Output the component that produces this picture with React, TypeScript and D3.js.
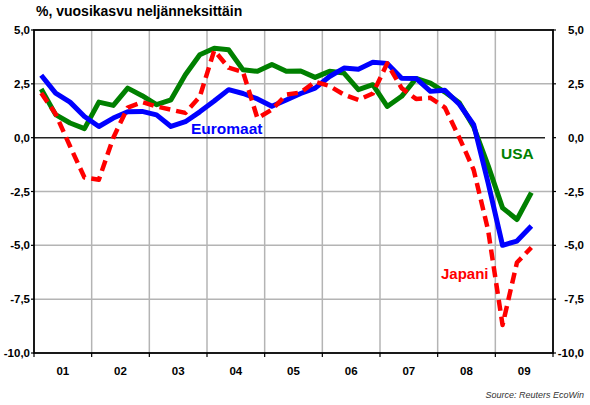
import React from "react";
import * as d3 from "d3";

const quarters = [
  "2001Q1","2001Q2","2001Q3","2001Q4",
  "2002Q1","2002Q2","2002Q3","2002Q4",
  "2003Q1","2003Q2","2003Q3","2003Q4",
  "2004Q1","2004Q2","2004Q3","2004Q4",
  "2005Q1","2005Q2","2005Q3","2005Q4",
  "2006Q1","2006Q2","2006Q3","2006Q4",
  "2007Q1","2007Q2","2007Q3","2007Q4",
  "2008Q1","2008Q2","2008Q3","2008Q4",
  "2009Q1","2009Q2","2009Q3",
];

const usa = [
  2.26, 1.07, 0.68, 0.42, 1.65, 1.5, 2.3, 1.95,
  1.53, 1.76, 2.92, 3.85, 4.15, 4.08, 3.15, 3.08,
  3.4, 3.08, 3.1, 2.8, 3.08, 3.0, 2.23, 2.46,
  1.45, 1.92, 2.75, 2.53, 2.12, 1.62, 0.5, -1.3,
  -3.26, -3.8, -2.55,
];

const euromaat = [
  2.9, 2.07, 1.65, 0.98, 0.52, 0.91, 1.2, 1.22,
  1.06, 0.52, 0.74, 1.2, 1.7, 2.23, 2.05, 1.8,
  1.46, 1.75, 2.05, 2.3, 2.84, 3.23, 3.18, 3.5,
  3.45, 2.76, 2.75, 2.15, 2.2, 1.55, 0.6, -2.1,
  -5.0, -4.8, -4.1,
];

const japani = [
  2.07, 1.1, -0.4, -1.85, -1.95, 0.0, 1.4, 1.65,
  1.45, 1.3, 1.15, 1.9, 4.05, 3.25, 3.05, 0.9,
  1.3, 2.0, 2.1, 2.6, 2.4, 2.0, 1.75, 2.05,
  3.45, 2.3, 1.8, 1.85, 1.4, 0.0, -1.5, -4.3,
  -8.7, -5.8, -5.1,
];

const yTicks = [5, 2.5, 0, -2.5, -5, -7.5, -10];
const yearLabels = ["01", "02", "03", "04", "05", "06", "07", "08", "09"];

const W = 590;
const H = 405;
const left = 34;
const right = 553;
const top = 30;
const bottom = 353;

const fmt = d3
  .formatLocale({ decimal: ",", thousands: " ", grouping: [3], currency: ["", ""], minus: "-" })
  .format(".1f");

const FONT = "'Liberation Sans', Arial, sans-serif";

export default function App() {
  const x = d3.scaleLinear().domain([2001, 2010]).range([left, right]);
  const y = d3.scaleLinear().domain([-10, 5]).range([bottom, top]);

  const qx = (q: string) => {
    const yr = +q.slice(0, 4);
    const qq = +q.slice(5);
    return yr + (qq - 0.5) / 4;
  };

  const line = d3
    .line<number>()
    .x((_, i) => x(qx(quarters[i])))
    .y((d) => y(d));

  const yearStarts = d3.range(2002, 2010);
  const gridY = yTicks.filter((v) => v !== 0 && v !== 5 && v !== -10);

  return (
    <svg
      width={W}
      height={H}
      style={{ position: "absolute", left: 0, top: 0, background: "#fff" }}
      fontFamily={FONT}
    >
      <rect x={0} y={0} width={W} height={H} fill="#fff" />
      <text x={36} y={15.5} fontSize={14} fontWeight="bold" fill="#000">
        %, vuosikasvu neljänneksittäin
      </text>

      {/* grid */}
      {gridY.map((v) => (
        <line key={"gy" + v} x1={left} x2={right} y1={y(v)} y2={y(v)} stroke="#b4b4b4" strokeWidth={1.5} />
      ))}
      {yearStarts.map((yr) => (
        <line key={"gx" + yr} x1={x(yr)} x2={x(yr)} y1={top} y2={bottom} stroke="#b4b4b4" strokeWidth={1.5} />
      ))}
      <line x1={left} x2={545} y1={y(0)} y2={y(0)} stroke="#222" strokeWidth={1.5} />

      {/* ticks */}
      {yTicks.map((v) => (
        <g key={"t" + v}>
          <line x1={left - 3} x2={left} y1={y(v)} y2={y(v)} stroke="#000" strokeWidth={1.2} />
          <line x1={right} x2={right + 3} y1={y(v)} y2={y(v)} stroke="#000" strokeWidth={1.2} />
          <text x={30} y={y(v)} dy="0.36em" textAnchor="end" fontSize={11.5} fontWeight="bold">
            {fmt(v)}
          </text>
          <text x={584} y={y(v)} dy="0.36em" textAnchor="end" fontSize={11.5} fontWeight="bold">
            {fmt(v)}
          </text>
        </g>
      ))}
      {d3.range(2001, 2011).map((yr) => (
        <line key={"bt" + yr} x1={x(yr)} x2={x(yr)} y1={bottom} y2={bottom + 4} stroke="#000" strokeWidth={1.2} />
      ))}
      {yearLabels.map((lab, i) => (
        <text key={lab} x={x(2001 + i + 0.5)} y={375} textAnchor="middle" fontSize={11.5} fontWeight="bold">
          {lab}
        </text>
      ))}

      {/* frame */}
      <rect x={left} y={top} width={right - left} height={bottom - top} fill="none" stroke="#000" strokeWidth={1.8} />

      {/* series */}
      <path d={line(usa) || ""} fill="none" stroke="#008000" strokeWidth={5} strokeLinejoin="round" />
      <path d={line(euromaat) || ""} fill="none" stroke="#0000ff" strokeWidth={5} strokeLinejoin="round" />
      <path
        d={line(japani) || ""}
        fill="none"
        stroke="#ff0000"
        strokeWidth={4.5}
        strokeDasharray="11,6"
        strokeLinejoin="round"
      />

      {/* series labels */}
      <text x={191} y={134} fontSize={15.5} fontWeight="bold" fill="#0000ff">
        Euromaat
      </text>
      <text x={501} y={159} fontSize={15.5} fontWeight="bold" fill="#008000">
        USA
      </text>
      <text x={441} y={279} fontSize={15} fontWeight="bold" fill="#ff0000">
        Japani
      </text>

      <text x={584} y={398} textAnchor="end" fontSize={9} fontStyle="italic" fill="#333">
        Source: Reuters EcoWin
      </text>
    </svg>
  );
}
